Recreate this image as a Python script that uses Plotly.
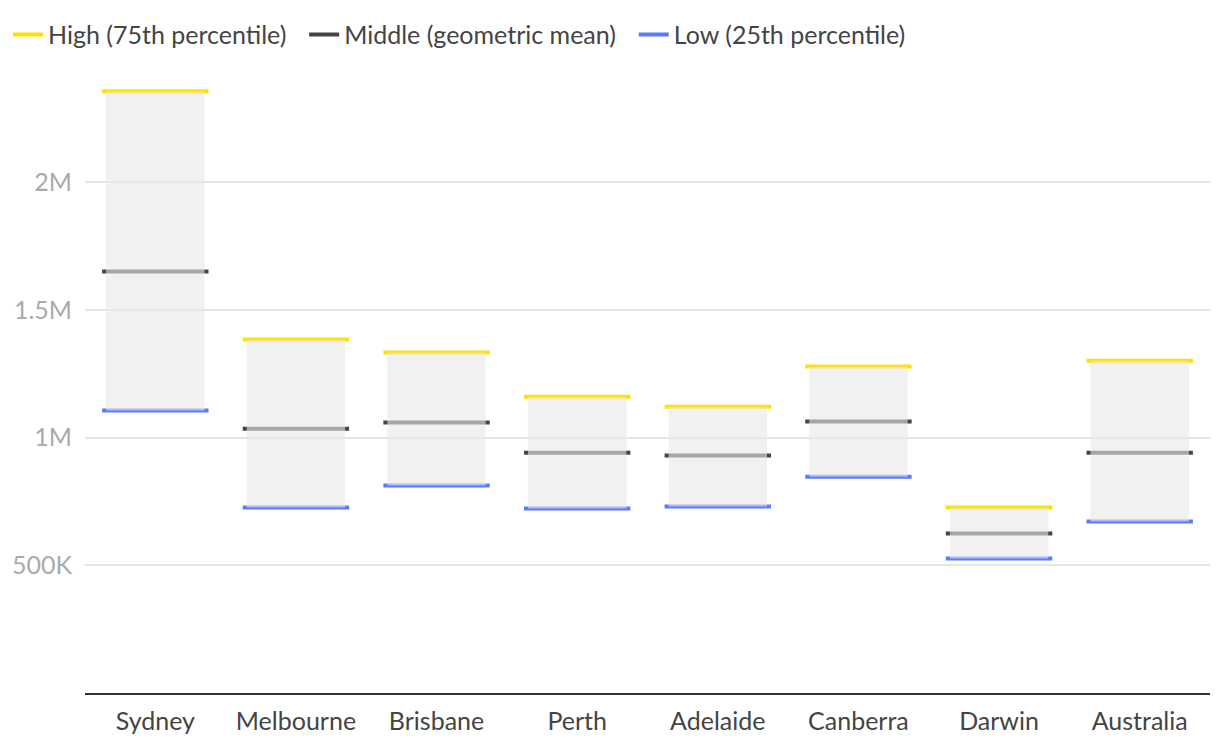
import plotly.graph_objects as go

categories = ["Sydney", "Melbourne", "Brisbane", "Perth", "Adelaide", "Canberra", "Darwin", "Australia"]
high = [2356000, 1384000, 1333000, 1160000, 1121000, 1278000, 726000, 1301000]
middle = [1650000, 1035000, 1059000, 941000, 930000, 1063000, 624000, 941000]
low = [1106000, 726000, 812000, 722000, 730000, 847000, 527000, 671000]

tick_vals = [500000, 1000000, 1500000, 2000000]
tick_text = ["500K", "1M", "1.5M", "2M"]

NB = "\u00a0\u00a0"
series = [
    ("High (75th percentile)" + NB, high, "#FFE100"),
    ("Middle (geometric mean)" + NB, middle, "#444444"),
    ("Low (25th percentile)", low, "#5B7BFF"),
]

FONT = "Lato"
fig = go.Figure()

for name, vals, color in series:
    fig.add_trace(go.Scatter(
        x=categories, y=vals, mode="markers", showlegend=False, hoverinfo="skip",
        marker=dict(symbol="line-ew", size=76, color=color,
                    line=dict(width=4, color=color)),
        xaxis="x", yaxis="y",
    ))
    fig.add_trace(go.Scatter(
        x=[None], y=[None], mode="lines", name=name,
        line=dict(color=color, width=4), xaxis="x", yaxis="y",
    ))

fig.add_trace(go.Bar(
    x=categories, y=[h - l for h, l in zip(high, low)], base=low,
    width=0.7, marker=dict(color="rgba(232,232,232,0.6)", line=dict(width=0)),
    showlegend=False, hoverinfo="skip", xaxis="x2", yaxis="y2",
))

yrange = [0, 2400000]
xrange = [-0.5, len(categories) - 0.5]
fig.update_layout(
    width=1220, height=750,
    margin=dict(l=77, r=18, t=72, b=65, autoexpand=False),
    paper_bgcolor="white", plot_bgcolor="white",
    font=dict(family=FONT, size=25, color="#444444"),
    legend=dict(orientation="h", xref="container", yref="container",
                x=-0.004, y=0.995, xanchor="left", yanchor="top",
                font=dict(size=25, color="#444444"),
                itemwidth=30, tracegroupgap=0),
    xaxis=dict(type="category", categoryarray=categories, range=xrange,
               showgrid=False, showline=True, linecolor="#333333", linewidth=2,
               ticks="", tickfont=dict(size=25, color="#444444"),
               zeroline=False, automargin=False, ticklabelstandoff=5),
    yaxis=dict(range=yrange, tickvals=tick_vals, ticktext=tick_text,
               showgrid=True, gridcolor="#e5e5e5", gridwidth=2,
               zeroline=False, showline=False, automargin=False,
               tickfont=dict(size=25, color="#aaaaaa"), ticklabelstandoff=12),
    xaxis2=dict(type="category", categoryarray=categories, overlaying="x",
                matches="x", range=xrange, showgrid=False, showticklabels=False,
                showline=False, ticks="", zeroline=False),
    yaxis2=dict(range=yrange, overlaying="y", matches="y", showgrid=False,
                showticklabels=False, showline=False, ticks="", zeroline=False),
    bargap=0.3,
)

fig.write_html("out.html")
